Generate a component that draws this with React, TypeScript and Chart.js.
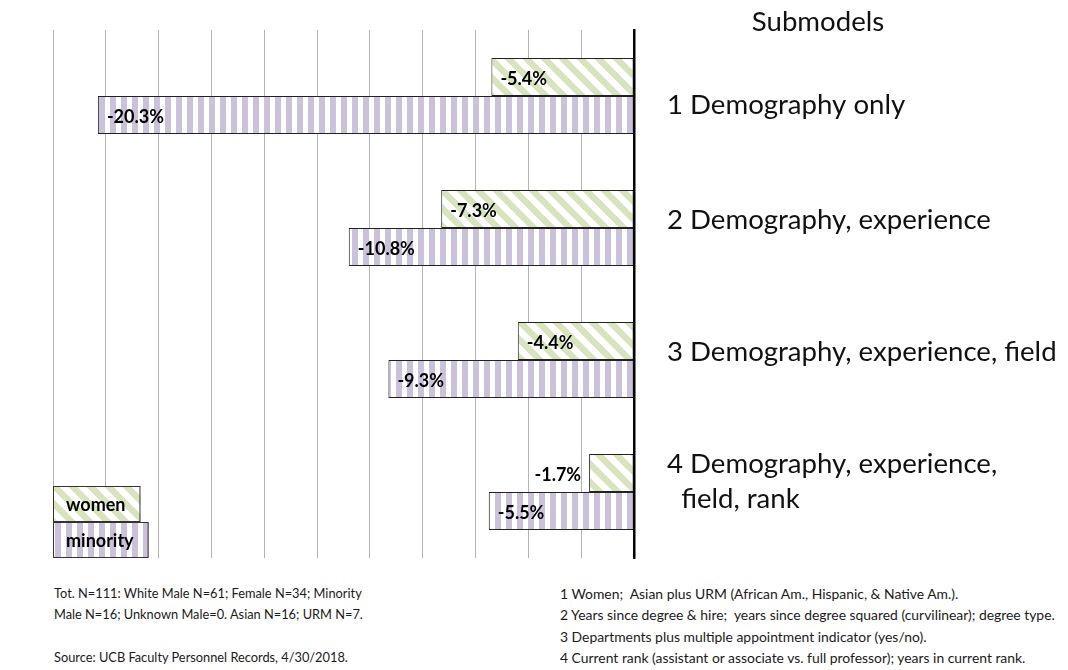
import React, { useEffect, useRef } from "react";
import { Chart, registerables } from "chart.js";

Chart.register(...registerables);

// ---- data ----
const submodelLabels: string[][] = [
  ["1 Demography only"],
  ["2 Demography, experience"],
  ["3 Demography, experience, field"],
  ["4 Demography, experience,", "  field, rank"],
];
const womenGap = [-5.4, -7.3, -4.4, -1.7];
const minorityGap = [-20.3, -10.8, -9.3, -5.5];
const seriesNames = ["women", "minority"];
const axisMin = -22;
const axisMax = 0;
const axisStep = 2;
const panelTitle = "Submodels";
const leftNotes = [
  "Tot. N=111: White Male N=61; Female N=34; Minority",
  "Male N=16; Unknown Male=0. Asian N=16; URM N=7.",
];
const sourceNote = "Source: UCB Faculty Personnel Records, 4/30/2018.";
const rightNotes = [
  "1 Women;  Asian plus URM (African Am., Hispanic, & Native Am.).",
  "2 Years since degree & hire;  years since degree squared (curvilinear); degree type.",
  "3 Departments plus multiple appointment indicator (yes/no).",
  "4 Current rank (assistant or associate vs. full professor); years in current rank.",
];

// ---- style ----
const FONT = "Lato, 'Open Sans', sans-serif";
const labelShift = [9, -8, -8, -10];

function makeDiagonal(): CanvasPattern | string {
  const s = 18;
  const c = document.createElement("canvas");
  c.width = s;
  c.height = s;
  const g = c.getContext("2d");
  if (!g) return "#d7e4bd";
  g.fillStyle = "#ffffff";
  g.fillRect(0, 0, s, s);
  g.strokeStyle = "#d7e4bd";
  g.lineWidth = 6.5;
  for (const x0 of [-s, 0, s]) {
    g.beginPath();
    g.moveTo(x0 - 2, -2);
    g.lineTo(x0 + s + 2, s + 2);
    g.stroke();
  }
  return g.createPattern(c, "repeat") || "#d7e4bd";
}

function makeVertical(): CanvasPattern | string {
  const c = document.createElement("canvas");
  c.width = 11;
  c.height = 4;
  const g = c.getContext("2d");
  if (!g) return "#ccc1da";
  g.fillStyle = "#ffffff";
  g.fillRect(0, 0, 11, 4);
  g.fillStyle = "#ccc1da";
  g.fillRect(0, 0, 6, 4);
  return g.createPattern(c, "repeat") || "#ccc1da";
}

export default function App() {
  const ref = useRef<HTMLCanvasElement | null>(null);

  useEffect(() => {
    if (!ref.current) return;
    const green = makeDiagonal();
    const purple = makeVertical();
    const fills = [green, purple];

    const overlay = {
      id: "overlay",
      afterDatasetsDraw(chart: any) {
        const ctx = chart.ctx;
        const area = chart.chartArea;
        const yScale = chart.scales.y;
        ctx.save();
        // value labels
        ctx.font = `bold 18px ${FONT}`;
        ctx.fillStyle = "#000";
        ctx.textBaseline = "middle";
        chart.data.datasets.forEach((ds: any, di: number) => {
          const meta = chart.getDatasetMeta(di);
          meta.data.forEach((bar: any, i: number) => {
            const txt = ds.data[i].toFixed(1) + "%";
            const w = ctx.measureText(txt).width;
            const left = Math.min(bar.x, bar.base);
            const len = Math.abs(bar.base - bar.x);
            if (len > w + 18) {
              ctx.textAlign = "left";
              ctx.fillText(txt, left + 9, bar.y + 2);
            } else {
              ctx.textAlign = "right";
              ctx.fillText(txt, left - 8, bar.y + 2);
            }
          });
        });
        // legend boxes
        const boxH = 36;
        const names = chart.data.datasets.map((d: any) => d.label);
        names.forEach((name: string, k: number) => {
          const top = area.bottom - boxH * (names.length - k);
          const w = ctx.measureText(name).width + 28;
          ctx.fillStyle = fills[k] as any;
          ctx.fillRect(area.left, top, w, boxH);
          ctx.strokeStyle = "#333";
          ctx.lineWidth = 1;
          ctx.strokeRect(area.left + 0.5, top + 0.5, w - 1, boxH - 1);
          ctx.fillStyle = "#000";
          ctx.textAlign = "left";
          ctx.fillText(name, area.left + 13, top + boxH / 2 + 1);
        });
        // category labels on the right
        ctx.font = `27.6px ${FONT}`;
        ctx.fillStyle = "#111";
        ctx.textAlign = "left";
        const lh = 35;
        submodelLabels.forEach((lines, i) => {
          const cy = yScale.getPixelForValue(i) + labelShift[i];
          lines.forEach((ln, j) => {
            const y = cy + (j - (lines.length - 1) / 2) * lh;
            ctx.fillText(ln, area.right + 33, y);
          });
        });
        // title
        ctx.textAlign = "center";
        ctx.fillText(panelTitle, 818, 22);
        ctx.restore();
      },
    };

    const chart = new Chart(ref.current, {
      type: "bar",
      data: {
        labels: submodelLabels.map((l) => l.join(" ")),
        datasets: seriesNames.map((name, k) => ({
          label: name,
          data: k === 0 ? womenGap : minorityGap,
          backgroundColor: fills[k] as any,
          borderColor: "#222",
          borderWidth: 1,
          borderSkipped: false,
        })),
      },
      options: {
        indexAxis: "y",
        animation: false,
        responsive: false,
        maintainAspectRatio: false,
        layout: { padding: { left: 53, top: 30, right: 0, bottom: 2 } },
        datasets: { bar: { categoryPercentage: 0.576, barPercentage: 1 } },
        scales: {
          x: {
            min: axisMin,
            max: axisMax,
            ticks: { stepSize: axisStep, display: false },
            grid: { color: "#b4b4b4", drawTicks: false, lineWidth: 1 },
            border: { display: false },
            afterFit: (s: any) => {
              s.height = 0;
            },
          },
          y: {
            position: "right",
            grid: { display: false, drawTicks: false },
            border: { display: true, color: "#000", width: 2.5 },
            ticks: { display: false },
            afterFit: (s: any) => {
              s.width = 434;
            },
          },
        },
        plugins: { legend: { display: false }, tooltip: { enabled: false } },
      } as any,
      plugins: [overlay],
    });
    return () => chart.destroy();
  }, []);

  const noteStyle: React.CSSProperties = {
    position: "absolute",
    fontFamily: FONT,
    color: "#1a1a1a",
    lineHeight: "21.4px",
    whiteSpace: "pre",
  };

  return (
    <div style={{ position: "absolute", left: 0, top: 0, width: 1068, height: 670, background: "#fff", overflow: "hidden" }}>
      <canvas ref={ref} width={1068} height={560} style={{ position: "absolute", left: 0, top: 0, width: 1068, height: 560 }} />
      <div style={{ ...noteStyle, fontSize: "12.8px", left: 54, top: 583 }}>
        {leftNotes.map((t, i) => (
          <div key={i}>{t}</div>
        ))}
      </div>
      <div style={{ ...noteStyle, fontSize: "12.8px", left: 54, top: 647 }}>{sourceNote}</div>
      <div style={{ ...noteStyle, fontSize: "13.9px", left: 560, top: 583 }}>
        {rightNotes.map((t, i) => (
          <div key={i}>{t}</div>
        ))}
      </div>
    </div>
  );
}
